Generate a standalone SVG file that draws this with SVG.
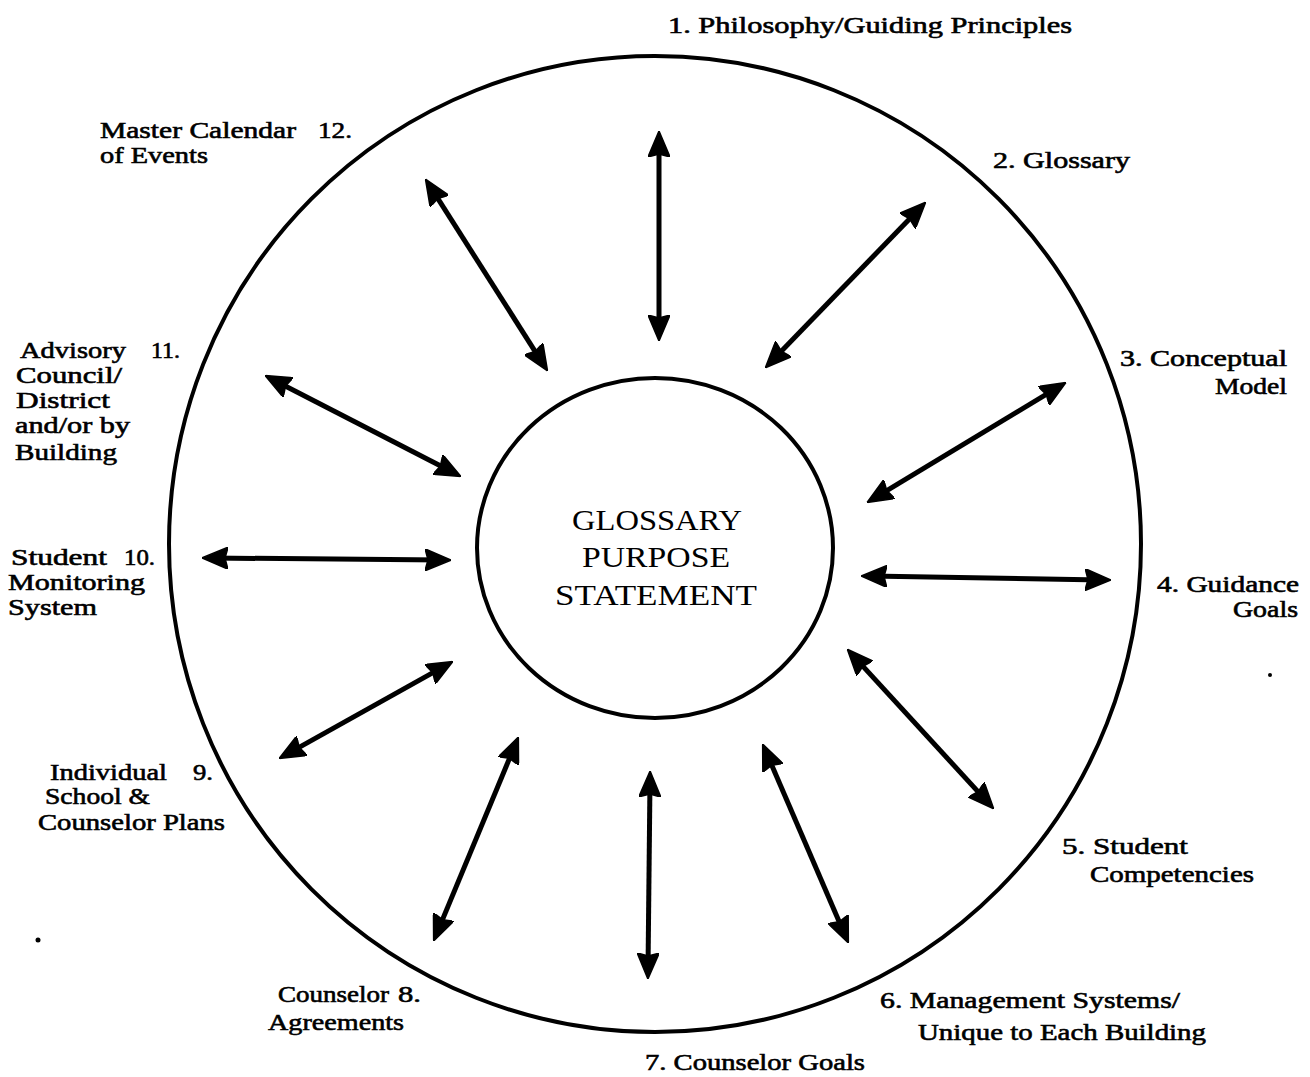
<svg xmlns="http://www.w3.org/2000/svg" width="1310" height="1077" viewBox="0 0 1310 1077">
<style>
.lbl{font-family:"Liberation Serif","Times New Roman",serif;font-size:23px;fill:#000;stroke:#000;stroke-width:0.6;}
.ctr{font-family:"Liberation Serif","Times New Roman",serif;font-size:30px;fill:#000;text-anchor:middle;}
.ring{fill:none;stroke:#000;stroke-width:4;}
.arr{stroke:#000;stroke-width:5;fill:none;marker-start:url(#head);marker-end:url(#head);}
</style>
<defs>
<marker id="head" viewBox="0 0 26 22" refX="17" refY="11" markerWidth="26" markerHeight="22" markerUnits="userSpaceOnUse" orient="auto-start-reverse">
<path d="M0,0 L26,11 L0,22 L3,11 z" fill="#000" stroke="#000" stroke-width="1.5" stroke-linejoin="round"/>
</marker>
</defs>
<rect width="1310" height="1077" fill="#fff"/>
<g id="outer-circle"><ellipse class="ring" cx="655" cy="544" rx="486" ry="488"/></g>
<g id="center">
<ellipse class="ring" cx="655" cy="548" rx="178" ry="170" stroke-width="3.5"/>
<text class="ctr" x="657" y="530" textLength="170" lengthAdjust="spacingAndGlyphs">GLOSSARY</text>
<text class="ctr" x="656" y="567" textLength="148" lengthAdjust="spacingAndGlyphs">PURPOSE</text>
<text class="ctr" x="656" y="605" textLength="202" lengthAdjust="spacingAndGlyphs">STATEMENT</text>
</g>
<g id="connectors">
<line class="arr" x1="659" y1="140" x2="659" y2="332"/>
<line class="arr" x1="919.4" y1="208.7" x2="771.6" y2="361.3"/>
<line class="arr" x1="1058.2" y1="387.1" x2="874.8" y2="497.9"/>
<line class="arr" x1="870" y1="576.1" x2="1102" y2="579.9"/>
<line class="arr" x1="853.4" y1="655.9" x2="987.6" y2="802.1"/>
<line class="arr" x1="766.2" y1="752.3" x2="844.8" y2="934.7"/>
<line class="arr" x1="650" y1="780" x2="648" y2="970"/>
<line class="arr" x1="514.9" y1="745.4" x2="437.1" y2="932.6"/>
<line class="arr" x1="445" y1="665.9" x2="287" y2="754.1"/>
<line class="arr" x1="211" y1="558" x2="442" y2="560"/>
<line class="arr" x1="273.1" y1="379.7" x2="452.9" y2="472.3"/>
<line class="arr" x1="430.3" y1="186.7" x2="542.7" y2="363.3"/>
</g>
<g id="n1"><text class="lbl" x="668" y="33" textLength="404" lengthAdjust="spacingAndGlyphs">1. Philosophy/Guiding Principles</text></g>
<g id="n2"><text class="lbl" x="993" y="168" textLength="137" lengthAdjust="spacingAndGlyphs">2. Glossary</text></g>
<g id="n3"><text class="lbl" x="1120" y="366" textLength="167" lengthAdjust="spacingAndGlyphs">3. Conceptual</text>
<text class="lbl" x="1215" y="394" textLength="72" lengthAdjust="spacingAndGlyphs">Model</text></g>
<g id="n4"><text class="lbl" x="1157" y="592" textLength="142" lengthAdjust="spacingAndGlyphs">4. Guidance</text>
<text class="lbl" x="1233" y="617" textLength="65" lengthAdjust="spacingAndGlyphs">Goals</text></g>
<g id="n5"><text class="lbl" x="1062" y="854" textLength="126" lengthAdjust="spacingAndGlyphs">5. Student</text>
<text class="lbl" x="1090" y="882" textLength="164" lengthAdjust="spacingAndGlyphs">Competencies</text></g>
<g id="n6"><text class="lbl" x="880" y="1008" textLength="300" lengthAdjust="spacingAndGlyphs">6. Management Systems/</text>
<text class="lbl" x="918" y="1040" textLength="288" lengthAdjust="spacingAndGlyphs">Unique to Each Building</text></g>
<g id="n7"><text class="lbl" x="645" y="1070" textLength="220" lengthAdjust="spacingAndGlyphs">7. Counselor Goals</text></g>
<g id="n8"><text class="lbl" x="278" y="1002" textLength="111" lengthAdjust="spacingAndGlyphs">Counselor</text>
<text class="lbl" x="398" y="1002" textLength="23" lengthAdjust="spacingAndGlyphs">8.</text>
<text class="lbl" x="268" y="1030" textLength="136" lengthAdjust="spacingAndGlyphs">Agreements</text></g>
<g id="n9"><text class="lbl" x="50" y="780" textLength="117" lengthAdjust="spacingAndGlyphs">Individual</text>
<text class="lbl" x="193" y="780" textLength="20" lengthAdjust="spacingAndGlyphs">9.</text>
<text class="lbl" x="45" y="804" textLength="105" lengthAdjust="spacingAndGlyphs">School &amp;</text>
<text class="lbl" x="38" y="830" textLength="187" lengthAdjust="spacingAndGlyphs">Counselor Plans</text></g>
<g id="n10"><text class="lbl" x="11" y="565" textLength="96" lengthAdjust="spacingAndGlyphs">Student</text>
<text class="lbl" x="124" y="565" textLength="31" lengthAdjust="spacingAndGlyphs">10.</text>
<text class="lbl" x="8" y="590" textLength="137" lengthAdjust="spacingAndGlyphs">Monitoring</text>
<text class="lbl" x="8" y="615" textLength="89" lengthAdjust="spacingAndGlyphs">System</text></g>
<g id="n11"><text class="lbl" x="20" y="358" textLength="106" lengthAdjust="spacingAndGlyphs">Advisory</text>
<text class="lbl" x="151" y="358" textLength="29" lengthAdjust="spacingAndGlyphs">11.</text>
<text class="lbl" x="16" y="383" textLength="106" lengthAdjust="spacingAndGlyphs">Council/</text>
<text class="lbl" x="16" y="408" textLength="94" lengthAdjust="spacingAndGlyphs">District</text>
<text class="lbl" x="15" y="433" textLength="115" lengthAdjust="spacingAndGlyphs">and/or by</text>
<text class="lbl" x="15" y="460" textLength="102" lengthAdjust="spacingAndGlyphs">Building</text></g>
<g id="n12"><text class="lbl" x="100" y="138" textLength="196" lengthAdjust="spacingAndGlyphs">Master Calendar</text>
<text class="lbl" x="318" y="138" textLength="34" lengthAdjust="spacingAndGlyphs">12.</text>
<text class="lbl" x="100" y="163" textLength="108" lengthAdjust="spacingAndGlyphs">of Events</text></g>
<circle cx="1270" cy="675" r="2" fill="#000"/>
<circle cx="38" cy="940" r="2.5" fill="#000"/>
</svg>
